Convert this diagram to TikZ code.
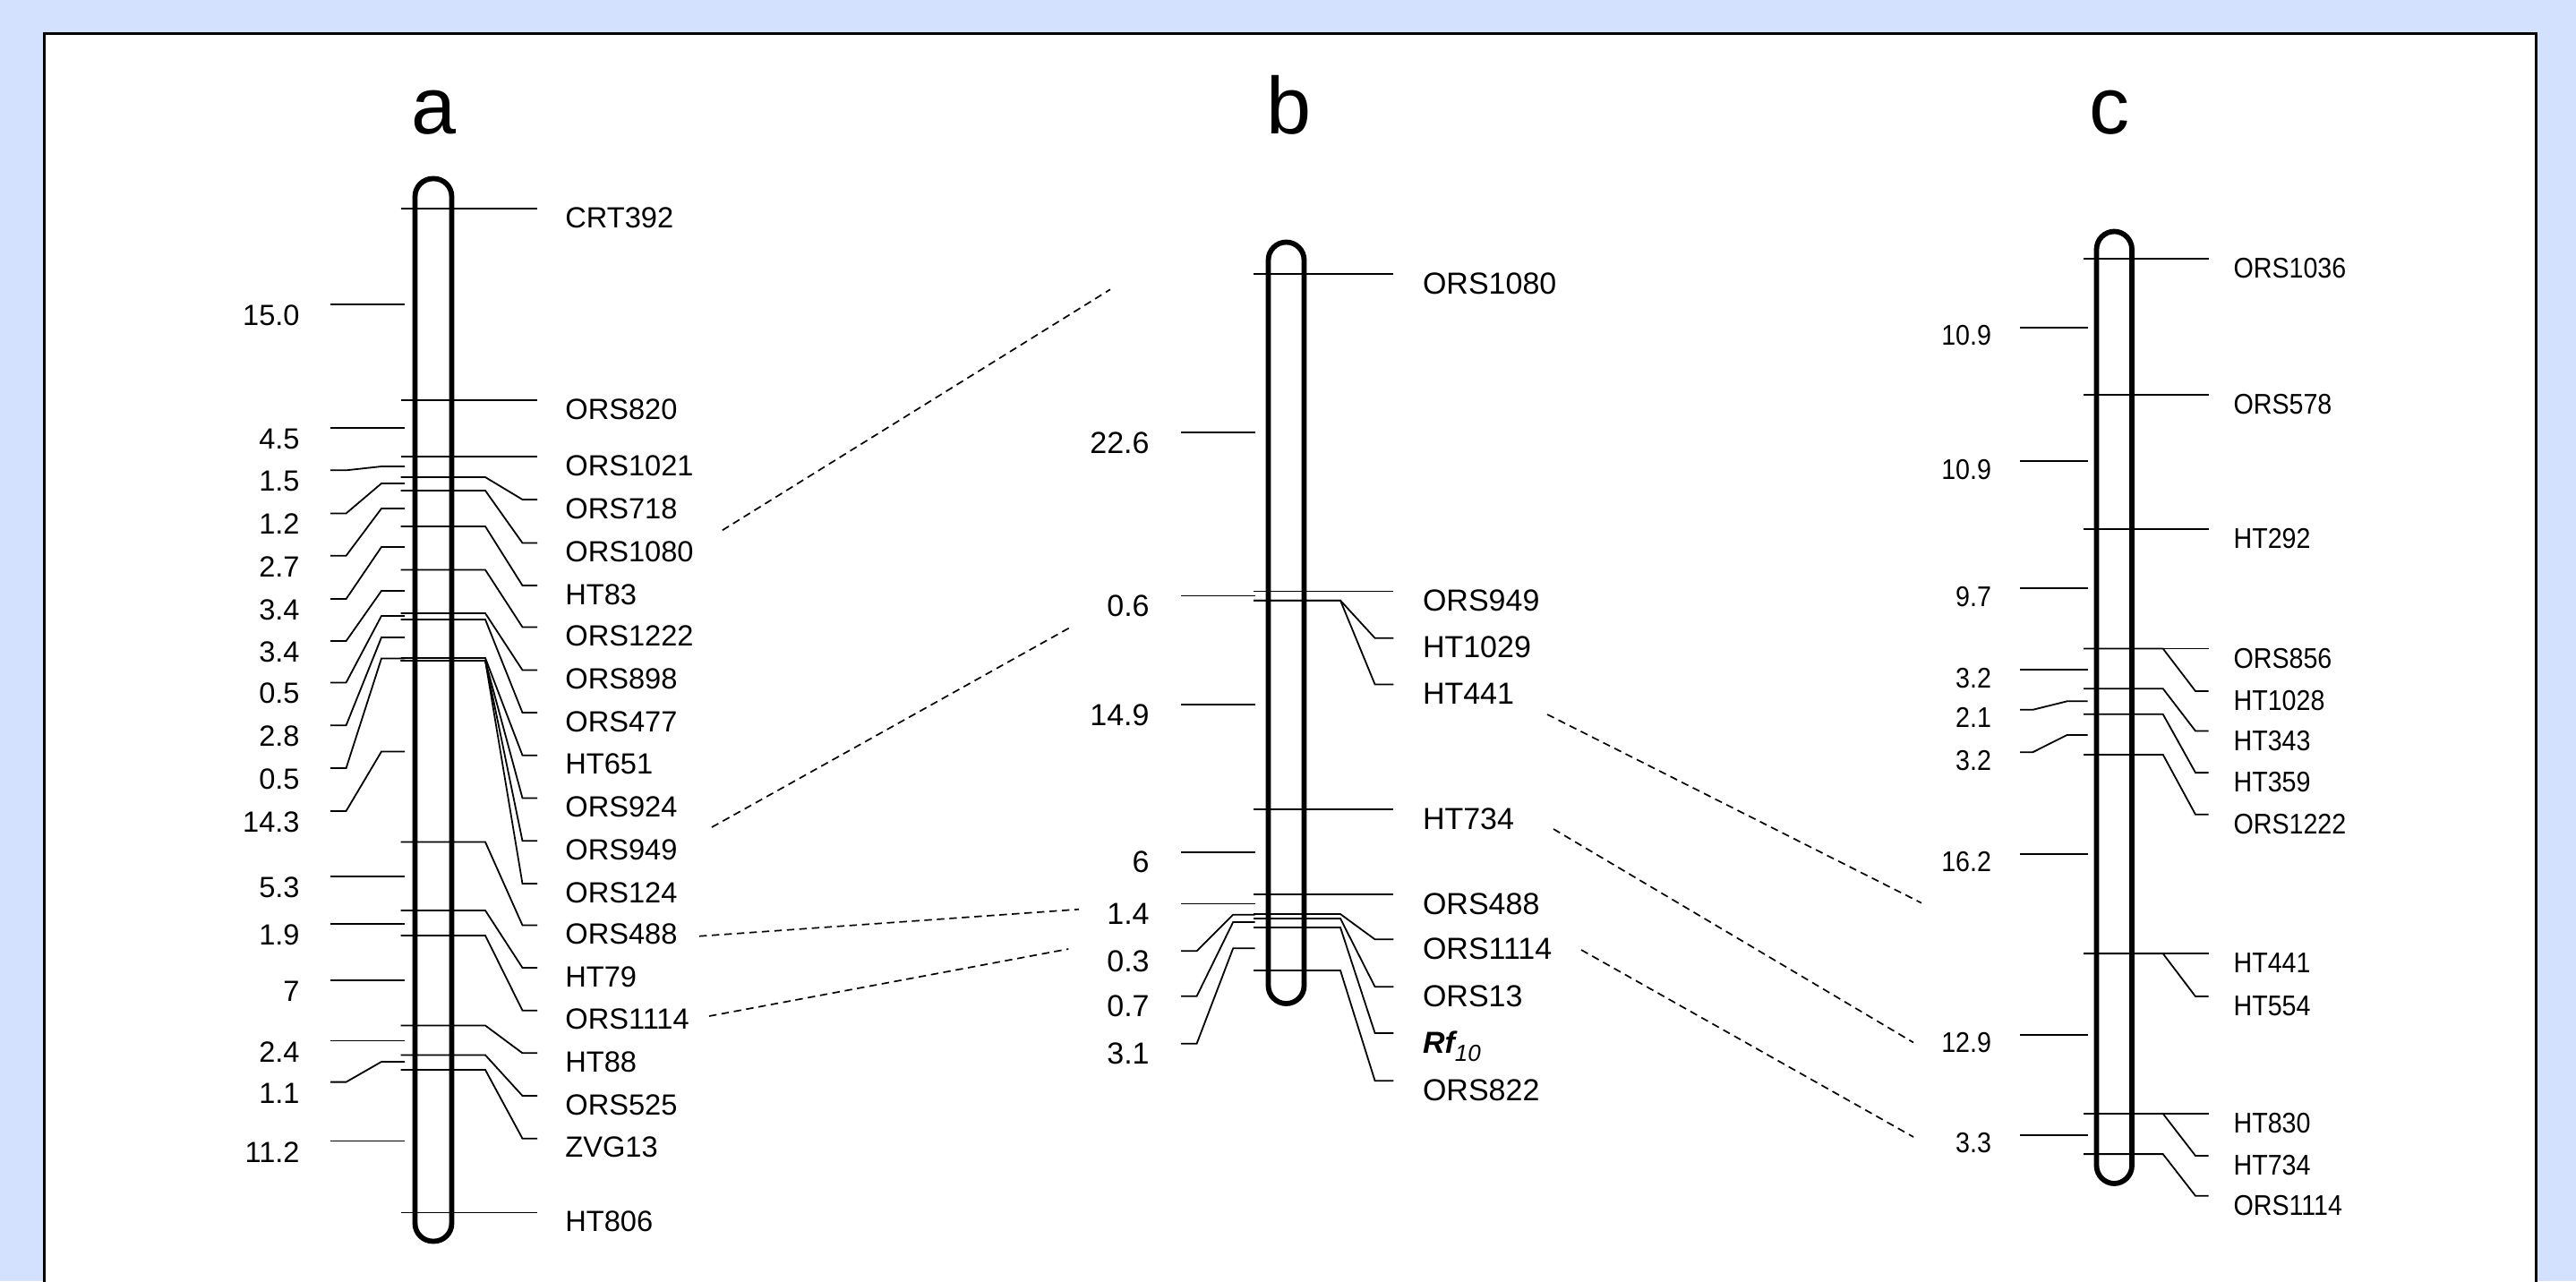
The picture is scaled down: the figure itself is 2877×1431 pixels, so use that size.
\documentclass[tikz,border=0pt]{standalone}
\usepackage{fontspec}
\setmainfont{Liberation Sans}
\newfontfamily\chromcfont[FakeStretch=0.9]{Liberation Sans}
\definecolor{pagebg}{RGB}{212,225,254}

\begin{document}
\begin{tikzpicture}[x=0.5pt,y=-0.5pt,
  chrom/.style={line width=2.9pt, rounded corners=10pt},
  leader/.style={line width=0.9pt, line join=miter},
  link/.style={line width=0.85pt, dash pattern=on 4.2pt off 2.8pt},
  alab/.style={inner sep=0pt, font=\fontsize{16.3}{18}\selectfont},
  blab/.style={inner sep=0pt, font=\fontsize{17}{19}\selectfont},
  clab/.style={inner sep=0pt, font=\chromcfont\fontsize{15.9}{18}\selectfont},
  title/.style={inner sep=0pt, anchor=base, font=\fontsize{45}{50}\selectfont},
]
\useasboundingbox (0,0) rectangle (2877,1431);
\fill[pagebg] (0,0) rectangle (2877,1431);
\clip (0,0) rectangle (2877,1431);
% white panel, its lower edge runs off the page
\draw[fill=white, line width=1.5pt] (49,37) rectangle (2832.7,1500);

% panel letters
\node[title] (ta) at (484.5,149) {a};
\node[title] (tb) at (1440,149) {b};
\node[title] (tc) at (2356,149) {c};

% ---------------- linkage group a ----------------
\foreach \nm/\my/\sy in {CRT392/233/233, ORS820/447/447, ORS1021/510/510,
  ORS718/533/558, ORS1080/548/606.5, HT83/588/654, ORS1222/636.5/700.5,
  ORS898/685/748.5, ORS477/692/796, HT651/735/843.7, ORS924/738/891.5,
  ORS949/738/939.3, ORS124/738/987, ORS488/940.5/1033.5, HT79/1017/1081,
  ORS1114/1045/1128.7, HT88/1145.5/1176.3, ORS525/1178.5/1224,
  ZVG13/1195/1271.7, HT806/1354.5/1354.5}{
  \draw[leader] (447.5,\my) -- (542,\my) -- (583.5,\sy) -- (600,\sy);
  \node[alab, anchor=base west] (a-\nm) at (631,{\sy+21}) {\nm};
}
\foreach \k/\tk/\sy/\v in {1/340/340/15.0, 2/478/478/4.5, 3/521/525.3/1.5,
  4/540/573.4/1.2, 5/568/620.7/2.7, 6/611/669/3.4, 7/660/716/3.4,
  8/688/762.4/0.5, 9/712/810.2/2.8, 10/735.5/858/0.5, 11/839.5/905.9/14.3,
  12/979/979/5.3, 13/1032/1032/1.9, 14/1095/1095/7, 15/1162.5/1162.5/2.4,
  16/1186/1208.6/1.1, 17/1274.5/1274.5/11.2}{
  \draw[leader] (369.2,\sy) -- (386.6,\sy) -- (426,\tk) -- (452,\tk);
  \node[alab, anchor=base east] (a-d\k) at (335,{\sy+23.5}) {\v};
}
\draw[chrom] (463.5,199.5) rectangle (504.5,1386.5);

% ---------------- linkage group b ----------------
\foreach \nm/\my/\sy in {ORS1080/306/306, ORS949/660.4/660.4,
  HT1029/670.7/712.8, HT441/670.7/764.5, HT734/904/904, ORS488/999/999,
  ORS1114/1021/1049.3, ORS13/1026/1102.3, ORS822/1084/1207.3}{
  \draw[leader] (1400,\my) -- (1497,\my) -- (1535.6,\sy) -- (1556.3,\sy);
  \node[blab, anchor=base west] (b-\nm) at (1588.6,{\sy+22}) {\nm};
}
\draw[leader] (1400,1036) -- (1497,1036) -- (1535.6,1154) -- (1556.3,1154);
\node[blab, anchor=base west] (b-Rf10) at (1588.6,1176)
  {{\bfseries\itshape Rf}{\fontsize{13}{14}\selectfont\itshape\raisebox{-4.5pt}{10}}};
\foreach \k/\tk/\sy/\v in {1/483.2/483.2/22.6, 2/665.5/665.5/0.6,
  3/787/787/14.9, 4/951.7/951.7/6, 5/1009.5/1009.5/1.4,
  6/1021.7/1062.3/0.3, 7/1030/1112.7/0.7, 8/1059.3/1165.7/3.1}{
  \draw[leader] (1319,\sy) -- (1336.6,\sy) -- (1377.2,\tk) -- (1401.7,\tk);
  \node[blab, anchor=base east] (b-d\k) at (1284,{\sy+23}) {\v};
}
\draw[chrom] (1416.5,270.5) rectangle (1456.5,1121);

% ---------------- linkage group c ----------------
\foreach \nm/\my/\sy in {ORS1036/289/289, ORS578/441.3/441.3, HT292/591/591,
  ORS856/724.5/724.5, HT1028/724.5/772, HT343/769.2/816.5, HT359/797.8/863.1,
  ORS1222/842.9/909.8, HT441/1065.2/1065.2, HT554/1065.2/1113,
  HT830/1244/1244, HT734/1244/1291, ORS1114/1289.1/1335.8}{
  \draw[leader] (2327,\my) -- (2415.7,\my) -- (2452,\sy) -- (2466.6,\sy);
  \node[clab, anchor=base west] (c-\nm) at (2494.2,{\sy+21.5}) {\nm};
}
\foreach \k/\tk/\sy/\v in {1/365.8/365.8/10.9, 2/515/515/10.9,
  3/657.3/657.3/9.7, 4/748/748/3.2, 5/783.3/792.8/2.1, 6/821/840.2/3.2,
  7/953.8/953.8/16.2, 8/1155.9/1155.9/12.9, 9/1267.7/1267.7/3.3}{
  \draw[leader] (2256.1,\sy) -- (2270.3,\sy) -- (2308.6,\tk) -- (2331.5,\tk);
  \node[clab, anchor=base east] (c-d\k) at (2224.4,{\sy+20}) {\v};
}
\draw[chrom] (2341.5,258.5) rectangle (2381,1322);

% ---------------- shared markers between groups ----------------
\coordinate (ab1s) at (806.8,592.3);  \coordinate (ab1e) at (1240,323.3);
\coordinate (ab2s) at (795,924);      \coordinate (ab2e) at (1194,701.5);
\coordinate (ab3s) at (781,1045.7);   \coordinate (ab3e) at (1205,1015.7);
\coordinate (ab4s) at (792,1135);     \coordinate (ab4e) at (1193.3,1060);
\coordinate (bc1s) at (1728,798);     \coordinate (bc1e) at (2146,1008.6);
\coordinate (bc2s) at (1735,926);     \coordinate (bc2e) at (2137,1164.5);
\coordinate (bc3s) at (1766,1061);    \coordinate (bc3e) at (2137,1270);
\draw[link] (ab1s) -- (ab1e);
\draw[link] (ab2s) -- (ab2e);
\draw[link] (ab3s) -- (ab3e);
\draw[link] (ab4s) -- (ab4e);
\draw[link] (bc1s) -- (bc1e);
\draw[link] (bc2s) -- (bc2e);
\draw[link] (bc3s) -- (bc3e);
\end{tikzpicture}
\end{document}
